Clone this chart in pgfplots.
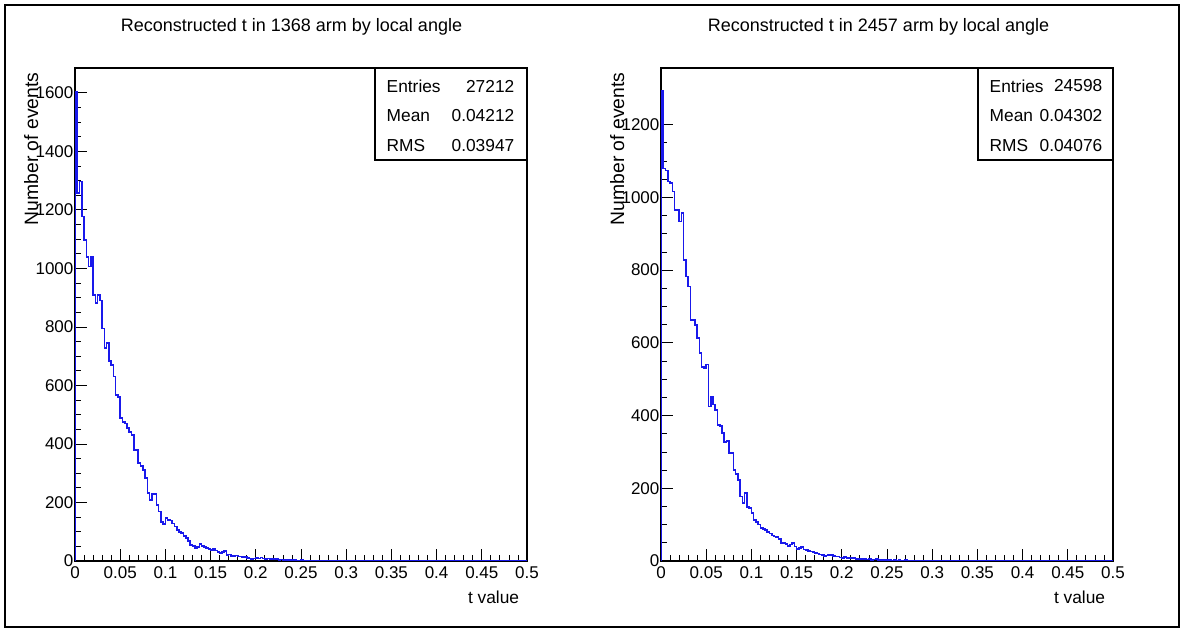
\documentclass[border=0pt]{standalone}
\usepackage{fontspec}
\setmainfont{Liberation Sans}
\usepackage{pgfplots}
\usepackage{pgfplotstable}
\pgfplotsset{compat=1.18}
\definecolor{histblue}{RGB}{25,25,235}

% bin low edge, counts for the 1368 arm (a) and the 2457 arm (b); bin width 0.0025
\pgfplotstableread{
t a b
0 0 0
0 1605 1292
0.0025 1258 1080
0.005 1297 1074
0.0075 1177 1044
0.01 1097 1040
0.0125 1040 1016
0.015 1006 966
0.0175 1040 966
0.02 909 934
0.0225 882 957
0.025 909 828
0.0275 890 782
0.03 795 755
0.0325 728 663
0.035 746 663
0.0375 684 649
0.04 670 613
0.0425 630 572
0.045 567 534
0.0475 560 530
0.05 489 540
0.0525 476 425
0.055 470 452
0.0575 454 430
0.06 440 415
0.0625 431 374
0.065 379 372
0.0675 379 352
0.07 335 328
0.0725 325 330
0.075 311 297
0.0775 284 297
0.08 232 250
0.0825 209 240
0.085 228 223
0.0875 230 177
0.09 191 159
0.0925 169 187
0.095 134 149
0.0975 126 145
0.1 147 132
0.1025 140 113
0.105 138 108
0.1075 128 100
0.11 118 90
0.1125 105 88
0.115 100 85
0.1175 95 80
0.12 86 76
0.1225 78 70
0.125 68 67
0.1275 55 66
0.13 52 60
0.1325 45 49
0.135 48 50
0.1375 58 47
0.14 52 41
0.1425 47 45
0.145 44 50
0.1475 42 40
0.15 38 33
0.1525 40 36
0.155 36 39
0.1575 30 32
0.16 27 30
0.1625 30 28
0.165 34 26
0.1675 20 24
0.17 22 22
0.1725 18 21
0.175 17 18
0.1775 19 16
0.18 16 14
0.1825 15 15
0.185 14 17
0.1875 14 16
0.19 11 14
0.1925 9 12
0.195 7 12
0.1975 9 10
0.2 10 9
0.2025 8 11
0.205 12 8
0.2075 9 9
0.21 7 7
0.2125 8 8
0.215 6 6
0.2175 7 5
0.22 5 7
0.2225 6 5
0.225 4 6
0.2275 5 4
0.23 4 5
0.2325 3 3
0.235 4 4
0.2375 3 5
0.24 2 3
0.2425 3 2
0.245 2 3
0.2475 2 2
0.25 3 3
0.2525 1 2
0.255 2 1
0.2575 1 2
0.26 2 1
0.2625 1 2
0.265 1 1
0.2675 0 1
0.27 1 2
0.2725 1 0
0.275 0 1
0.2775 1 1
0.28 0 0
0.2825 1 1
0.285 0 0
0.2875 0 0
0.29 1 0
0.2925 0 1
0.295 0 0
0.2975 0 0
0.3 0 0
0.5 0 0
}\histdata

\newcommand{\ticksize}{\fontsize{12.75}{14}\selectfont}
\newcommand{\titlesize}{\fontsize{13.5}{16}\selectfont}

\pgfplotsset{
  rootaxis/.style={
    scale only axis, width=339pt, height=369.75pt,
    anchor=south west,
    xmin=0, xmax=0.5, ymin=0,
    axis line style={black, line width=0.8pt},
    tick align=inside, xtick pos=lower, ytick pos=left,
    major tick length=9pt, minor tick length=4.5pt,
    tick style={black, line width=0.6pt},
    xtick={0,0.05,0.1,0.15,0.2,0.25,0.3,0.35,0.4,0.45,0.5},
    xticklabels={0,0.05,0.1,0.15,0.2,0.25,0.3,0.35,0.4,0.45,0.5},
    minor x tick num=4, minor y tick num=3,
    every tick label/.append style={font=\ticksize},
    xticklabel style={yshift=-1pt},
    yticklabel style={inner sep=1pt},
    ylabel={Number of events},
    ylabel style={font=\fontsize{14.5}{16}\selectfont, at={(axis description cs:-0.097,1)}, anchor=east},
    xlabel={t value},
    xlabel style={font=\fontsize{13}{15}\selectfont, at={(axis description cs:0.993,-0.073)}, anchor=east},
  },
}

\begin{document}
\begin{tikzpicture}[x=0.75pt, y=0.75pt]

\fill[white] (0,0) rectangle (1185,631);
\draw[black, line width=1.2pt] (5,4) rectangle (1179,626);

% left: 1368 arm
\begin{axis}[rootaxis, at={(56.25pt,52.5pt)},
  ymax=1685,
  ytick={0,200,400,600,800,1000,1200,1400,1600},
  yticklabels={0,200,400,600,800,1000,1200,1400,1600}]
\addplot[draw=histblue, line width=1.2pt, const plot mark left] table[x=t, y=a] {\histdata};
\end{axis}

% right: 2457 arm
\begin{axis}[rootaxis, at={(495.75pt,52.5pt)},
  ymax=1356,
  ytick={0,200,400,600,800,1000,1200},
  yticklabels={0,200,400,600,800,1000,1200}]
\addplot[draw=histblue, line width=1.2pt, const plot mark left] table[x=t, y=b] {\histdata};
\end{axis}

% titles
\node[font=\titlesize] at (291.5,604) {Reconstructed t in 1368 arm by local angle};
\node[font=\titlesize] at (878.5,604) {Reconstructed t in 2457 arm by local angle};

% stats boxes
\begin{scope}[font=\fontsize{13}{15}\selectfont]
\filldraw[fill=white, draw=black, line width=0.8pt] (375,471) rectangle (527,563);
\node[anchor=west] at (382,545) {Entries};
\node[anchor=east] at (519,545) {27212};
\node[anchor=west] at (382,515) {Mean};
\node[anchor=east] at (519,515) {0.04212};
\node[anchor=west] at (382,485) {RMS};
\node[anchor=east] at (519,485) {0.03947};

\filldraw[fill=white, draw=black, line width=0.8pt] (978,471) rectangle (1113,563);
\node[anchor=west] at (985,545) {Entries};
\node[anchor=east] at (1107,545) {24598};
\node[anchor=west] at (985,515) {Mean};
\node[anchor=east] at (1107,515) {0.04302};
\node[anchor=west] at (985,485) {RMS};
\node[anchor=east] at (1107,485) {0.04076};
\end{scope}

\end{tikzpicture}
\end{document}
